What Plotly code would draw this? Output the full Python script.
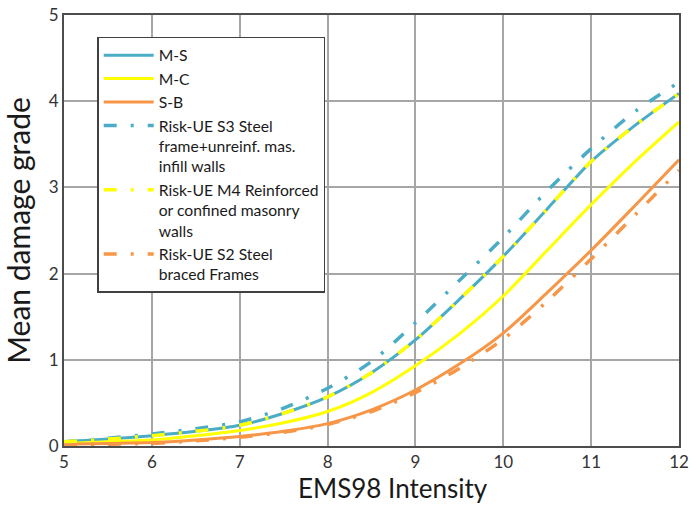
import plotly.graph_objects as go

# EMS98 intensity levels
intensity = [5, 5.5, 6, 6.5, 7, 7.5, 8, 8.5, 9, 9.5, 10, 10.5, 11, 11.5, 12]

# Mean damage grade curves
ms_curve = [0.05, 0.08, 0.12, 0.17, 0.24, 0.38, 0.57, 0.85, 1.23, 1.70, 2.20, 2.75, 3.30, 3.72, 4.09]
mc_curve = [0.03, 0.05, 0.07, 0.12, 0.18, 0.27, 0.40, 0.62, 0.93, 1.30, 1.74, 2.27, 2.80, 3.30, 3.76]
sb_curve = [0.02, 0.03, 0.04, 0.07, 0.11, 0.17, 0.26, 0.42, 0.65, 0.95, 1.31, 1.78, 2.27, 2.79, 3.32]
riskue_s3 = [0.05, 0.09, 0.14, 0.20, 0.28, 0.44, 0.67, 0.98, 1.43, 1.92, 2.42, 2.96, 3.45, 3.88, 4.22]
riskue_m4 = [0.05, 0.08, 0.12, 0.17, 0.24, 0.38, 0.57, 0.85, 1.23, 1.70, 2.20, 2.75, 3.30, 3.72, 4.09]
riskue_s2 = [0.01, 0.02, 0.03, 0.06, 0.10, 0.16, 0.25, 0.40, 0.62, 0.90, 1.24, 1.68, 2.17, 2.68, 3.20]

series_names = [
    "M-S",
    "M-C",
    "S-B",
    "Risk-UE S3 Steel<br>frame+unreinf. mas.<br>infill walls",
    "Risk-UE M4 Reinforced<br>or confined masonry<br>walls",
    "Risk-UE S2 Steel<br>braced Frames",
]

x_ticks = [5, 6, 7, 8, 9, 10, 11, 12]
y_ticks = [0, 1, 2, 3, 4, 5]

x_title = "EMS98 Intensity"
y_title = "Mean damage grade"

BLUE = "#4BACC6"
YELLOW = "#FFFF00"
ORANGE = "#F79646"
DASHDOT = "13px,14px,3px,14px"

styles = [
    (ms_curve, BLUE, "solid", 3),
    (mc_curve, YELLOW, "solid", 3),
    (sb_curve, ORANGE, "solid", 3),
    (riskue_s3, BLUE, DASHDOT, 3.5),
    (riskue_m4, YELLOW, DASHDOT, 3.5),
    (riskue_s2, ORANGE, DASHDOT, 3.5),
]

fig = go.Figure()
for name, (vals, color, dash, width) in zip(series_names, styles):
    fig.add_trace(go.Scatter(
        x=intensity, y=vals, name=name, mode="lines",
        line=dict(color=color, dash=dash, width=width, shape="spline", smoothing=0.8),
    ))

FONT = "Lato"
AXIS_LINE = "#4d4d4d"
GRID = "#a6a6a6"

# x-axis caption sits a little right of the plot centre
fig.add_annotation(
    text=x_title, xref="paper", yref="paper", x=0.535, y=-0.098,
    xanchor="center", yanchor="middle", showarrow=False,
    font=dict(family=FONT, size=26, color="#1a1a1a"),
)

fig.update_layout(
    width=690, height=510,
    margin=dict(l=64, r=11, t=15, b=64),
    paper_bgcolor="white",
    plot_bgcolor="white",
    font=dict(family=FONT, color="#1a1a1a"),
    legend=dict(
        x=0.054, y=0.949, xanchor="left", yanchor="top",
        bgcolor="white", bordercolor="#404040", borderwidth=1.5,
        font=dict(family=FONT, size=15.7, color="#1a1a1a"),
        valign="top", itemwidth=50, tracegroupgap=0,
    ),
    xaxis=dict(
        range=[5, 12], tickvals=x_ticks, ticktext=[str(v) for v in x_ticks],
        showgrid=True, gridcolor=GRID, gridwidth=1.5,
        showline=True, linecolor=AXIS_LINE, linewidth=2, mirror=True,
        zeroline=False, ticks="", automargin=False,
        tickfont=dict(family=FONT, size=17, color="#333333"),
    ),
    yaxis=dict(
        range=[0, 5], tickvals=y_ticks, ticktext=[str(v) for v in y_ticks],
        showgrid=True, gridcolor=GRID, gridwidth=1.5,
        showline=True, linecolor=AXIS_LINE, linewidth=2, mirror=True,
        zeroline=False, ticks="", automargin=False,
        tickfont=dict(family=FONT, size=17, color="#333333"),
        title=dict(text=y_title, font=dict(family=FONT, size=30, color="#1a1a1a"), standoff=10),
    ),
    showlegend=True,
)

fig.write_html("out.html")
